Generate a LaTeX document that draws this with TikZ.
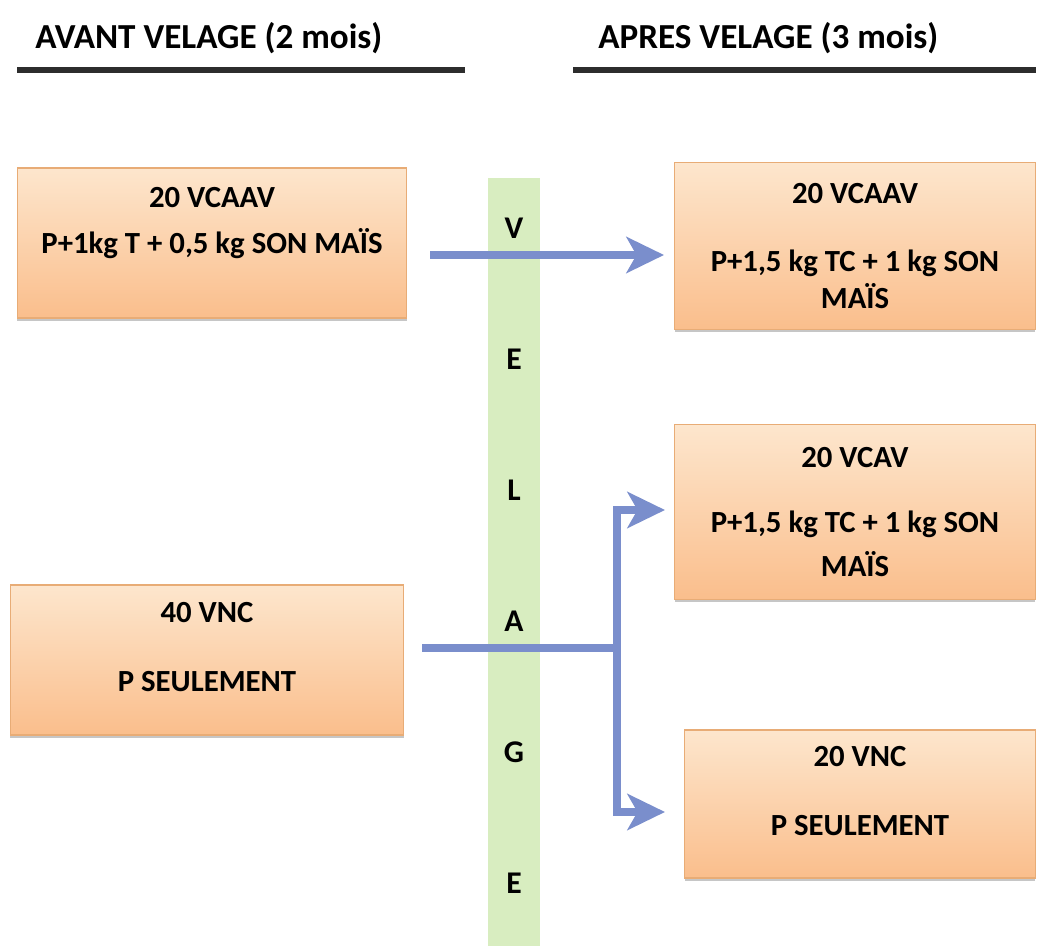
\documentclass[tikz,border=0pt]{standalone}
\usepackage{fontspec}
\setmainfont{Carlito}
\usepackage{tikz}
\usetikzlibrary{arrows.meta,shadows}
\definecolor{boxtop}{RGB}{253,230,205}
\definecolor{boxbot}{RGB}{250,190,140}
\definecolor{boxline}{RGB}{232,172,118}
\definecolor{arrowblue}{RGB}{122,142,204}
\definecolor{velgreen}{RGB}{216,237,192}
\definecolor{rulegray}{RGB}{45,45,45}

\begin{document}
\begin{tikzpicture}[x=0.02cm,y=-0.02cm,>={Stealth[length=0.75cm,width=0.72cm,inset=0.2cm]}]
    \tikzstyle{block} = [draw=boxline, line width=0.6pt, top color=boxtop, bottom color=boxbot, shape=rectangle, align=center, font=\fontsize{17.5}{21}\selectfont\bfseries, drop shadow={shadow xshift=0pt, shadow yshift=-0.06cm, opacity=0.45}]
    \tikzstyle{title} = [anchor=west, inner sep=0pt, font=\fontsize{20}{24}\selectfont\bfseries]
    \tikzstyle{letter} = [inner sep=0pt, font=\fontsize{18}{21}\selectfont\bfseries]
    \tikzstyle{arr} = [->, draw=arrowblue, line width=0.16cm, line join=miter]
    \useasboundingbox (0,0) rectangle (1046,946);
    %Headings
    \node[title] (before) at (35,38) {AVANT VELAGE (2 mois)};
    \node[title] (after) at (598,38) {APRES VELAGE (3 mois)};
    \draw[rulegray, line width=0.13cm] (17,70) -- (465,70);
    \draw[rulegray, line width=0.13cm] (573,70) -- (1036,70);
    %Calving bar
    \fill[velgreen] (488,178) rectangle (540,946);
    \foreach \l [count=\i] in {V,E,L,A,G,E}
        \node[letter] (l\i) at (514,{97+131*\i}) {\l};
    %Creating Blocks
    \node[block, minimum width=7.8cm, minimum height=3cm] (vcaav1) at (212,243)
        {20 VCAAV\\[5pt] P+1kg T + 0,5 kg SON MAÏS\\[5pt]\mbox{}};
    \node[block, minimum width=7.22cm, minimum height=3.34cm] (vcaav2) at (855,246)
        {20 VCAAV\\[18pt] P+1,5 kg TC + 1 kg SON\\ MAÏS};
    \node[block, minimum width=7.22cm, minimum height=3.5cm] (vcav) at (855,512)
        {20 VCAV\\[16pt] P+1,5 kg TC + 1 kg SON\\[4pt] MAÏS};
    \node[block, minimum width=7.88cm, minimum height=3cm] (vnc1) at (207,660)
        {40 VNC\\[18pt] P SEULEMENT\\[-6pt]\mbox{}};
    \node[block, minimum width=7.02cm, minimum height=2.96cm] (vnc2) at (860,804)
        {20 VNC\\[18pt] P SEULEMENT\\[-6pt]\mbox{}};
    %Connecting Blocks
    \coordinate (t1) at (430,255);
    \coordinate (split) at (617,648);
    \draw[arr] (t1) -- ([xshift=-0.2cm]t1 -| vcaav2.west);
    \draw[arr, -] ([xshift=0.36cm]vnc1.east |- split) -- (split);
    \draw[arr, <->] (665,510) -| (split) |- (665,812);
\end{tikzpicture}
\end{document}
